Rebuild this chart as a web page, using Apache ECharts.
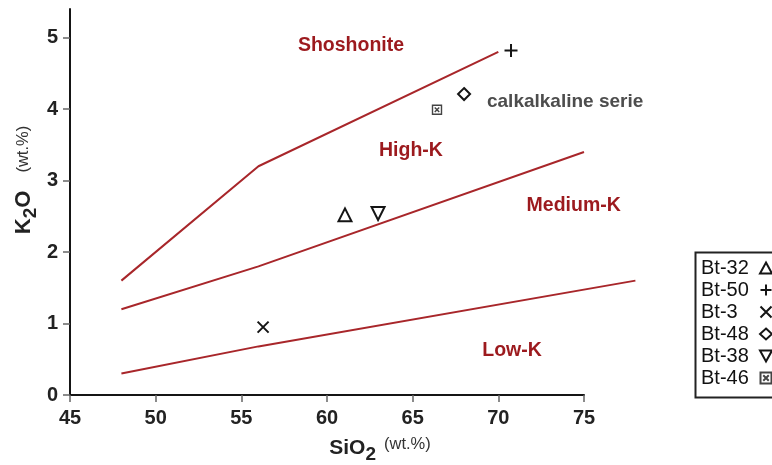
<!DOCTYPE html>
<html>
<head>
<meta charset="utf-8">
<script src="https://cdn.jsdelivr.net/npm/echarts@6/dist/echarts.min.js"></script>
<style>
  html, body { margin: 0; padding: 0; background: #fff; }
  #chart { width: 772px; height: 465px; }
</style>
</head>
<body>
<div id="chart"></div>
<script>
// Series boundaries of the K2O vs SiO2 diagram (SiO2, K2O in wt.%)
const shoshoniteBoundary = [[48, 1.6], [56, 3.2], [70, 4.8]];
const highKBoundary = [[48, 1.2], [56, 1.8], [75, 3.4]];
const mediumKBoundary = [[48, 0.3], [56, 0.68], [78, 1.6]];

// Samples
const sampleNames = ['Bt-32', 'Bt-50', 'Bt-3', 'Bt-48', 'Bt-38', 'Bt-46'];
const sampleSiO2 = [61.05, 70.74, 56.27, 68.0, 62.98, 66.42];
const sampleK2O = [2.52, 4.82, 0.95, 4.21, 2.54, 3.99];

// Field names and their positions in data space
const fieldNames = ['Shoshonite', 'High-K', 'Medium-K', 'Low-K'];
const fieldSiO2 = [61.4, 64.9, 74.4, 70.8];
const fieldK2O = [4.89, 3.42, 2.65, 0.62];
const seriesNote = { text: 'calkalkaline serie', x: 73.9, y: 4.1 };

const xTicks = [45, 50, 55, 60, 65, 70, 75];
const yTicks = [0, 1, 2, 3, 4, 5];

const lineColor = '#a8262a';
const fieldColor = '#9c1a1e';
const ink = '#151515';

const markerStyles = {
  'Bt-32': { symbol: 'triangle', size: 13, fill: '#fff' },
  'Bt-50': { symbol: 'path://M5,0L5,10M0,5L10,5', size: 13, fill: 'none' },
  'Bt-3': { symbol: 'path://M0,0L10,10M10,0L0,10', size: 11, fill: 'none' },
  'Bt-48': { symbol: 'diamond', size: 12, fill: '#fff' },
  'Bt-38': { symbol: 'path://M0,0L10,0L5,9Z', size: 13, fill: '#fff' },
  'Bt-46': { symbol: 'path://M0,0L10,0L10,10L0,10ZM2.5,2.5L7.5,7.5M7.5,2.5L2.5,7.5', size: 9, fill: '#fff' }
};

const fontFamily = '"Liberation Sans", Arial, Helvetica, sans-serif';

// The Medium-K/Low-K boundary runs past SiO2 = 75, so it lives on a wider
// companion grid that shares the same scale as the main one.
const boundarySeries = [
  { data: shoshoniteBoundary, xAxisIndex: 0, yAxisIndex: 0 },
  { data: highKBoundary, xAxisIndex: 0, yAxisIndex: 0 },
  { data: mediumKBoundary, xAxisIndex: 1, yAxisIndex: 1 }
].map((s) => ({
  type: 'line',
  data: s.data,
  xAxisIndex: s.xAxisIndex,
  yAxisIndex: s.yAxisIndex,
  symbol: 'none',
  clip: false,
  silent: true,
  lineStyle: { color: lineColor, width: 2 },
  z: 2
}));

const sampleSeries = sampleNames.map((name, i) => {
  const m = markerStyles[name];
  return {
    name: name,
    type: 'scatter',
    data: [[sampleSiO2[i], sampleK2O[i]]],
    symbol: m.symbol,
    symbolSize: m.size,
    clip: false,
    itemStyle: {
      color: m.fill,
      opacity: 1,
      borderColor: name === 'Bt-46' ? '#444' : ink,
      borderWidth: name === 'Bt-46' ? 1.4 : 2
    },
    z: 5
  };
});

const labelBase = {
  show: true,
  position: 'inside',
  fontWeight: 'bold',
  fontFamily: fontFamily,
  textBorderWidth: 0,
  textShadowBlur: 0
};

const fieldSeries = {
  type: 'scatter',
  symbolSize: 0,
  clip: false,
  silent: true,
  itemStyle: { opacity: 1 },
  data: fieldNames.map((n, i) => ({ value: [fieldSiO2[i], fieldK2O[i]], name: n })),
  label: Object.assign({}, labelBase, {
    formatter: (p) => p.name,
    color: fieldColor,
    fontSize: 19.5
  }),
  z: 4
};

const noteSeries = {
  type: 'scatter',
  symbolSize: 0,
  clip: false,
  silent: true,
  itemStyle: { opacity: 1 },
  data: [{ value: [seriesNote.x, seriesNote.y], name: seriesNote.text }],
  label: Object.assign({}, labelBase, {
    formatter: (p) => p.name,
    color: '#4d4d4d',
    fontSize: 19
  }),
  z: 4
};

const axisLabelStyle = { color: '#222', fontSize: 20, fontWeight: 'bold', fontFamily: fontFamily };

const chart = echarts.init(document.getElementById('chart'));
chart.setOption({
  animation: false,
  backgroundColor: '#ffffff',
  grid: [
    { left: 70, right: 188, top: 9, bottom: 70, containLabel: false },
    { left: 70, right: 136.6, top: 9, bottom: 70, containLabel: false }
  ],
  xAxis: [
    {
      type: 'value',
      gridIndex: 0,
      min: 45,
      max: 75,
      interval: 5,
      axisLine: { show: true, onZero: false, lineStyle: { color: ink, width: 2 } },
      axisTick: { show: true, inside: false, length: 7, lineStyle: { color: '#666', width: 1.5 }, customValues: xTicks },
      axisLabel: Object.assign({ customValues: xTicks, margin: 13 }, axisLabelStyle),
      splitLine: { show: false }
    },
    {
      type: 'value',
      gridIndex: 1,
      min: 45,
      max: 78,
      show: false
    }
  ],
  yAxis: [
    {
      type: 'value',
      gridIndex: 0,
      min: 0,
      max: 5.4,
      axisLine: { show: true, onZero: false, lineStyle: { color: ink, width: 2 } },
      axisTick: { show: true, inside: false, length: 7, lineStyle: { color: '#666', width: 1.5 }, customValues: yTicks },
      axisLabel: Object.assign({ customValues: yTicks, margin: 12 }, axisLabelStyle),
      splitLine: { show: false }
    },
    {
      type: 'value',
      gridIndex: 1,
      min: 0,
      max: 5.4,
      show: false
    }
  ],
  legend: {
    data: sampleNames,
    orient: 'vertical',
    left: 701,
    top: 258,
    align: 'right',
    itemGap: 2,
    itemWidth: 12,
    itemHeight: 11,
    padding: 0,
    formatter: '{n|{name}}',
    textStyle: {
      fontSize: 20,
      color: '#111',
      fontFamily: fontFamily,
      rich: { n: { width: 54, align: 'left', fontSize: 20, lineHeight: 22, fontFamily: fontFamily, color: '#111' } }
    },
    selectedMode: false
  },
  graphic: [
    {
      type: 'rect',
      left: 693,
      top: 250,
      shape: { width: 100, height: 145 },
      style: { fill: 'none', stroke: '#222', lineWidth: 2 },
      z: 1
    },
    {
      type: 'text',
      x: 24,
      y: 180,
      rotation: Math.PI / 2,
      style: {
        text: '{a|K}{b|2}{a|O}{c|(wt.%)}',
        align: 'center',
        verticalAlign: 'middle',
        fill: '#222',
        rich: {
          a: { fontSize: 22, fontWeight: 'bold', fontFamily: fontFamily, fill: '#222', lineHeight: 24 },
          b: { fontSize: 19, fontWeight: 'bold', fontFamily: fontFamily, fill: '#222', padding: [14, 0, 0, 0] },
          c: { fontSize: 16.5, fontFamily: fontFamily, fill: '#333', padding: [0, 0, 2, 18] }
        }
      }
    },
    {
      type: 'text',
      x: 380,
      y: 448,
      style: {
        text: '{a|SiO}{b|2}{c|(wt.%)}',
        align: 'center',
        verticalAlign: 'middle',
        fill: '#222',
        rich: {
          a: { fontSize: 21, fontWeight: 'bold', fontFamily: fontFamily, fill: '#222', lineHeight: 24 },
          b: { fontSize: 19, fontWeight: 'bold', fontFamily: fontFamily, fill: '#222', padding: [14, 0, 0, 0] },
          c: { fontSize: 16.5, fontFamily: fontFamily, fill: '#333', padding: [0, 0, 8, 8] }
        }
      }
    }
  ],
  series: boundarySeries.concat(sampleSeries, [fieldSeries, noteSeries])
});
</script>
</body>
</html>
